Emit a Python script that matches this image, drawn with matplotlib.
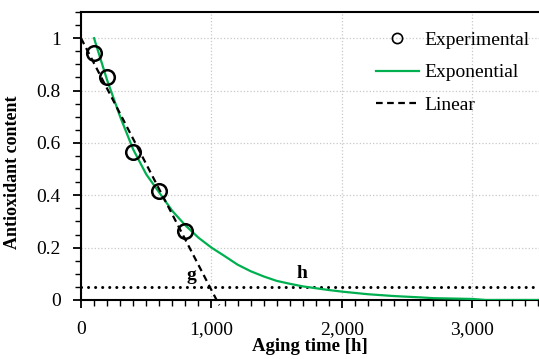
import matplotlib
matplotlib.use("Agg")
import matplotlib.pyplot as plt
from matplotlib.ticker import MultipleLocator, FuncFormatter

plt.rcParams['font.family'] = ['Liberation Serif', 'DejaVu Serif']

# Data
exp_t = [100, 200, 300, 400, 500, 600, 700, 800, 900, 1000, 1100, 1200, 1300, 1400,
         1500, 1600, 1700, 1800, 1900, 2000, 2200, 2400, 2600, 2700, 3000, 3100, 3500]
exp_v = [1.0, 0.84, 0.70, 0.575, 0.48, 0.41, 0.34, 0.285, 0.238, 0.20, 0.168, 0.135,
         0.11, 0.09, 0.073, 0.062, 0.052, 0.045, 0.038, 0.032, 0.022, 0.015, 0.010,
         0.007, 0.004, 0.0, 0.0]
obs_t = [100, 200, 400, 600, 800]
obs_v = [0.945, 0.85, 0.565, 0.415, 0.265]
lin_t = [0, 1060]
lin_v = [1.0, -0.02]
thr_t = [0, 3510]
thr_v = [0.05, 0.05]
labels = ['Experimental', 'Exponential', 'Linear']
green = '#00b050'

fig = plt.figure(figsize=(5.39, 3.59), dpi=100)
ax = fig.add_axes([81/539, 1-300/359, 1-81/539, 288/359])

ax.grid(True, which='major', color='#c8c8c8', linestyle=':', linewidth=0.9)
ax.set_axisbelow(True)

ax.plot(thr_t, thr_v, color='black', linewidth=2.2, linestyle=(0, (0.01, 2.3)),
        dash_capstyle='round', zorder=2)
ax.plot(exp_t, exp_v, color=green, linewidth=1.6, label=labels[1], zorder=3)
ax.plot(lin_t, lin_v, color='black', linewidth=1.6, linestyle=(0, (3.0, 2.0)),
        label=labels[2], zorder=4, clip_on=False)
ax.plot(obs_t, obs_v, linestyle='none', marker='o', markersize=10.5,
        markerfacecolor='none', markeredgecolor='black', markeredgewidth=1.8,
        label=labels[0], zorder=5)

ax.text(843, 0.095, 'g', fontsize=14, fontweight='bold', ha='center', va='center')
ax.text(1690, 0.103, 'h', fontsize=14, fontweight='bold', ha='center', va='center')

ax.set_xlim(0, 3510)
ax.set_ylim(0, 1.1)
ax.xaxis.set_major_locator(MultipleLocator(1000))
ax.xaxis.set_minor_locator(MultipleLocator(100))
ax.yaxis.set_major_locator(MultipleLocator(0.2))
ax.yaxis.set_minor_locator(MultipleLocator(0.05))
ax.xaxis.set_major_formatter(FuncFormatter(lambda v, p: f'{int(round(v)):,}'))
ax.yaxis.set_major_formatter(FuncFormatter(lambda v, p: f'{v:g}' if abs(v) > 1e-9 else '0'))

ax.tick_params(which='major', direction='out', length=6, width=1.3, labelsize=14, color='black')
ax.tick_params(which='minor', direction='out', length=4, width=1.0, color='black')
ax.tick_params(axis='x', which='major', pad=9)
ax.tick_params(axis='y', which='major', pad=8.5)

for s in ['left', 'bottom', 'top']:
    ax.spines[s].set_linewidth(1.5)
    ax.spines[s].set_color('black')
ax.spines['right'].set_visible(False)

ax.set_xlabel('Aging time [h]', fontsize=13.5, fontweight='bold', labelpad=0)
ax.set_ylabel('Antioxidant content', fontsize=13, fontweight='bold')
ax.yaxis.set_label_coords(-0.132, 0.444)

handles, labs = ax.get_legend_handles_labels()
order = [labs.index(l) for l in labels]
leg = ax.legend([handles[i] for i in order], [labs[i] for i in order],
                loc='upper left', bbox_to_anchor=((376-81)/458, (300-31)/288),
                frameon=False, fontsize=14, borderpad=0, borderaxespad=0,
                handlelength=2.2, handletextpad=0.3, labelspacing=0.78,
                markerscale=0.7)
leg.legend_handles[0].set_markeredgewidth(1.2)

fig.savefig('out.png', dpi=100)
